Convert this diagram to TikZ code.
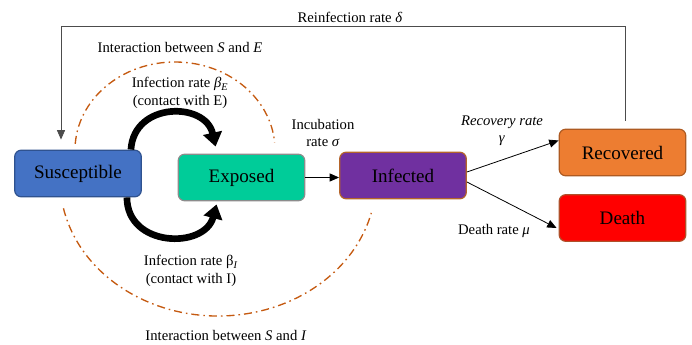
\documentclass[tikz,border=0pt]{standalone}
\usepackage{fontspec}
\setmainfont{Liberation Serif}
\usetikzlibrary{arrows.meta,calc}
\definecolor{susfill}{HTML}{4472C4}
\definecolor{susline}{HTML}{2F528F}
\definecolor{expfill}{HTML}{00CC99}
\definecolor{expline}{HTML}{8C8C8C}
\definecolor{inffill}{HTML}{7030A0}
\definecolor{infline}{HTML}{B5652A}
\definecolor{recfill}{HTML}{ED7D31}
\definecolor{recline}{HTML}{AE5A21}
\definecolor{deathfill}{HTML}{FF0000}
\definecolor{deathline}{HTML}{B0502A}
\definecolor{dashorange}{HTML}{C55A11}
\tikzset{
  compartment/.style={draw, line width=0.9pt, rounded corners=5pt,
    minimum width=95pt, minimum height=35pt,
    font=\fontsize{14.3}{16}\selectfont},
  rate/.style={font=\fontsize{11}{13}\selectfont, align=center},
  interact/.style={draw=dashorange, line width=1pt,
    dash pattern=on 6pt off 3pt on 1.2pt off 3pt},
  flow/.style={-{Triangle[length=7pt,width=6pt]}, line width=0.6pt},
  contact/.style={-{Triangle[length=10.5pt,width=14pt]}, line width=5pt},
  feedback/.style={flow, draw=black!70}
}

\begin{document}
\begin{tikzpicture}[x=0.75pt,y=-0.75pt]
  \useasboundingbox (0,0) rectangle (692,345);

  % compartments
  \node[compartment, fill=susfill, draw=susline] (sus) at (78,173.5) {Susceptible};
  \node[compartment, fill=expfill, draw=expline] (exp) at (241.5,177.5) {Exposed};
  \node[compartment, fill=inffill, draw=infline] (inf) at (403,175.5) {Infected};
  \node[compartment, fill=recfill, draw=recline] (rec) at (622.5,152.5) {Recovered};
  \node[compartment, fill=deathfill, draw=deathline] (death) at (622.5,218) {Death};

  % interaction zones
  \draw[interact] (175,150) ++(184:100 and 88)
    arc[start angle=184, end angle=355, x radius=100, y radius=88];
  \draw[interact] (218,180) ++(168:158 and 136)
    arc[start angle=168, end angle=14, x radius=158, y radius=136];

  % contact arrows
  \draw[contact] ($(sus.north east)+(-11,0)$)
    .. controls +(3,-48) and +(-10,-45) .. ($(exp.north west)+(38,-7)$);
  \draw[contact] ($(sus.south east)+(-15,0)$)
    .. controls +(0,50) and +(-12,45) .. ($(exp.south west)+(39,3)$);

  % flows
  \draw[flow] (exp.east) -- (exp.east -| inf.west);
  \draw[flow] ($(inf.east)+(0,-3.5)$) -- ($(rec.west)+(0,-12)$);
  \draw[flow] ($(inf.east)+(0,6.5)$) -- ($(death.west)+(-2,10)$);
  \draw[feedback] ($(rec.north)+(3,-8)$) -- ++(0,-94) -| ($(sus.north)+(-17,-10)$);

  % labels
  \node[rate] (lblre) at (350,17) {Reinfection rate \textit{δ}};
  \node[rate] (lblse) at (180,47) {Interaction between \textit{S} and \textit{E}};
  \node[rate] (lblbe) at (180,93) {Infection rate \textit{β}\textsubscript{\textit{E}}\\(contact with E)};
  \node[rate] (lblbi) at (191,271) {Infection rate β\textsubscript{\textit{I}}\\(contact with I)};
  \node[rate] (lblsi) at (226,335) {Interaction between \textit{S} and \textit{I}};
  \node[rate] (lblinc) at (323,133) {Incubation\\rate \textit{σ}};
  \node[rate] (lblrec) at (502,131) {\textit{Recovery rate}\\\textit{γ}};
  \node[rate] (lbldeath) at (494,231) {Death rate \textit{μ}};
\end{tikzpicture}
\end{document}
